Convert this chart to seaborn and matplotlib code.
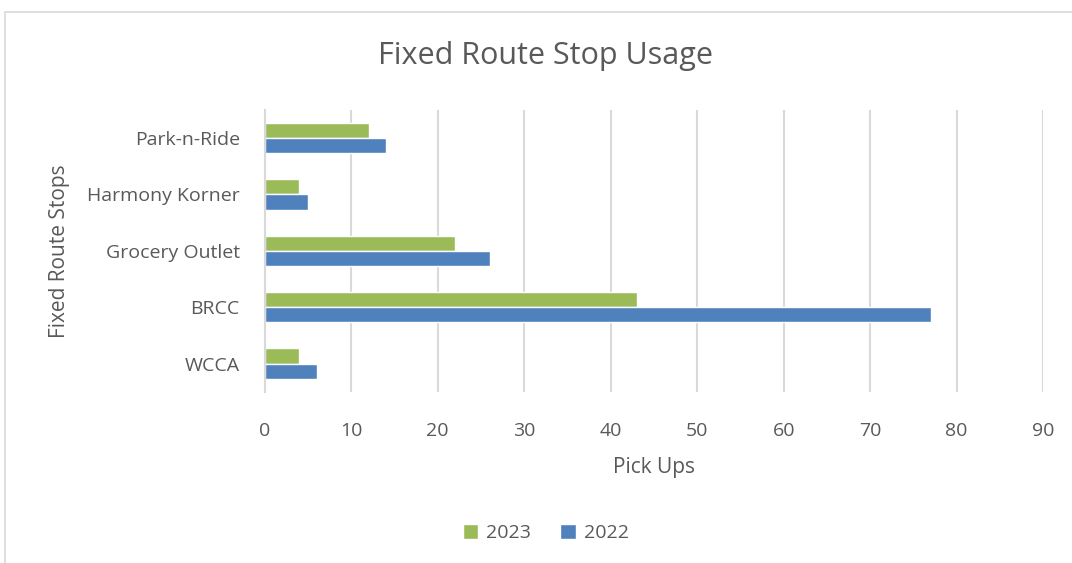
import matplotlib
matplotlib.use("Agg")
import matplotlib.pyplot as plt
from matplotlib.patches import Rectangle
import pandas as pd
import seaborn as sns

stops = ["Park-n-Ride", "Harmony Korner", "Grocery Outlet", "BRCC", "WCCA"]
pickups_2023 = [12, 4, 22, 43, 4]
pickups_2022 = [14, 5, 26, 77, 6]
years = ["2023", "2022"]
colors = {"2023": "#9BBB59", "2022": "#4F81BD"}
text_color = "#595959"

df = pd.DataFrame(
    {
        "stop": stops * 2,
        "year": ["2023"] * len(stops) + ["2022"] * len(stops),
        "pickups": pickups_2023 + pickups_2022,
    }
)

sns.set_theme(style="white")
plt.rcParams["font.family"] = ["Open Sans", "DejaVu Sans"]

fig = plt.figure(figsize=(10.72, 5.63), dpi=100)
ax = fig.add_axes([0.247, 0.304, 0.726, 0.501])

sns.barplot(
    data=df, x="pickups", y="stop", hue="year", order=stops, hue_order=years,
    palette=colors, orient="h", width=0.54, ax=ax, saturation=1, legend=True,
)

ax.set_xlim(0, 90)
ax.set_xticks(range(0, 91, 10))
ax.xaxis.grid(True, color="#D9D9D9", linewidth=1.5)
ax.set_axisbelow(True)
for s in ["top", "right", "bottom"]:
    ax.spines[s].set_visible(False)
ax.spines["left"].set_color("#D9D9D9")
ax.spines["left"].set_linewidth(1.5)
ax.tick_params(axis="y", length=0, labelsize=14, colors=text_color, pad=18)
ax.tick_params(axis="x", length=0, labelsize=14, colors=text_color, pad=22)

ax.set_xlabel("Pick Ups", fontsize=15, color=text_color, labelpad=12)
ax.set_ylabel("Fixed Route Stops", fontsize=15, color=text_color, labelpad=12)
fig.text(0.509, 0.9, "Fixed Route Stop Usage", ha="center", va="center",
         fontsize=22, color=text_color)

handles, labels = ax.get_legend_handles_labels()
ax.legend_.remove()
fig.legend(handles, labels, loc="center", bbox_to_anchor=(0.509, 0.053), ncol=2,
           frameon=False, fontsize=14, handlelength=0.8, handleheight=0.8,
           columnspacing=1.5, handletextpad=0.4, labelcolor=text_color)

fig.patches.append(Rectangle((5 / 1072, -0.01), 1.0, 1 - 12 / 563 + 0.01,
                             transform=fig.transFigure, fill=False,
                             edgecolor="#D9D9D9", linewidth=1.2))

fig.savefig("out.png", dpi=100)
